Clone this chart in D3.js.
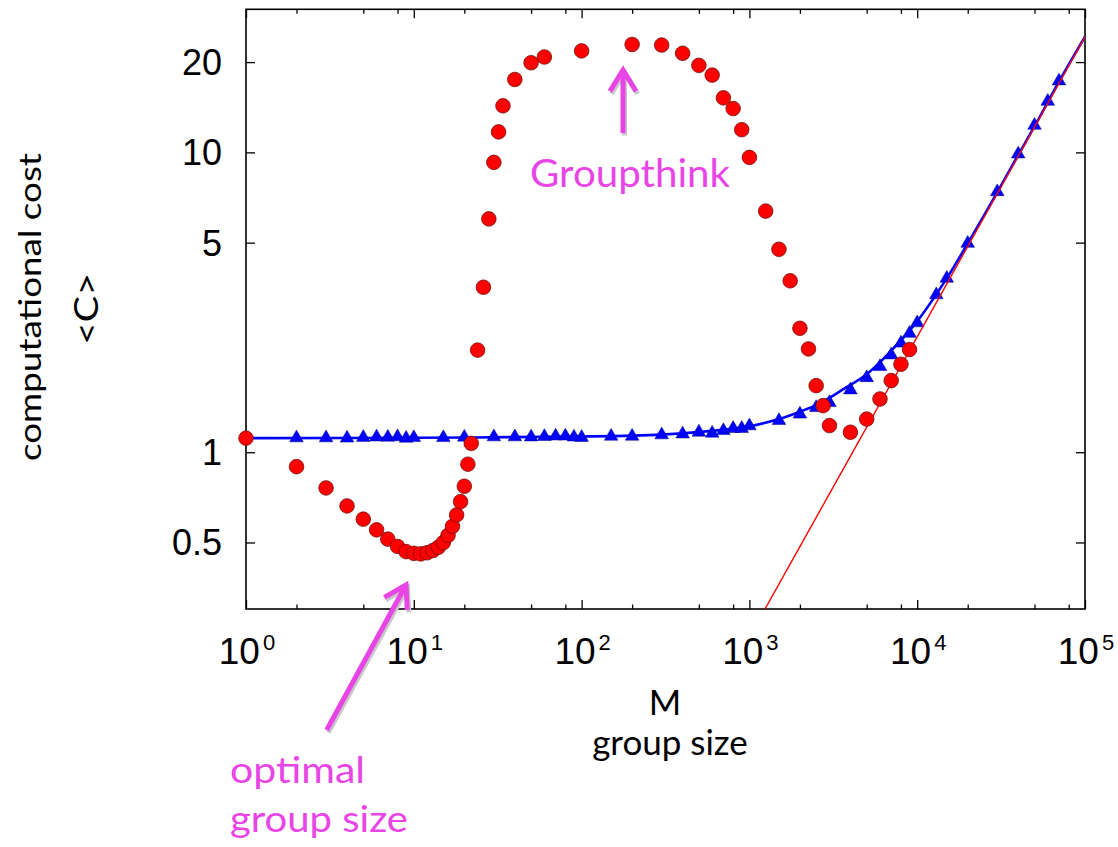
<!DOCTYPE html>
<html><head><meta charset="utf-8">
<script src="https://cdn.jsdelivr.net/npm/d3@7"></script>
<style>body{margin:0;background:#fff}svg{display:block}</style>
</head><body><svg id="c" width="1118" height="847"></svg>
<script>
// ---- data ----
const redM = [1,2,3,4,5,6,7,8,9,10,11,12,13,14,15,16,17,18,19,20,21,22,24,26,28,30,32,34,40,50,60,100,200,300,400,500,600,700,800,900,1000,1250,1500,1750,2000,2250,2500,2750,3000,4000,5000,6000,7000,8000,9000];
const redC = [1.114,0.895,0.76,0.662,0.598,0.551,0.513,0.485,0.466,0.46,0.458,0.462,0.47,0.482,0.5,0.528,0.566,0.618,0.684,0.77,0.912,1.07,2.19,3.55,6.0,9.26,11.7,14.3,17.5,19.9,20.8,21.8,22.9,22.8,21.4,19.5,18.1,15.2,14.0,11.9,9.62,6.37,4.75,3.73,2.59,2.21,1.667,1.43,1.227,1.166,1.29,1.505,1.733,1.965,2.2];
const blueM = [2,3,4,5,6,7,8,9,10,15,20,30,40,50,60,70,80,90,100,150,200,300,400,500,600,700,800,900,1000,1500,2000,2500,3000,4000,5000,6000,7000,8000,9000,10000,13000,15000,20000,30000,40000,50000,60000,70000];
const blueC = [1.116,1.116,1.114,1.12,1.124,1.122,1.126,1.113,1.118,1.118,1.122,1.125,1.125,1.124,1.128,1.132,1.132,1.123,1.12,1.13,1.13,1.142,1.15,1.166,1.157,1.18,1.2,1.2,1.224,1.274,1.339,1.408,1.463,1.613,1.772,1.929,2.11,2.31,2.49,2.7,3.35,3.8,4.97,7.39,9.87,12.3,14.8,17.3];
const fitM = [1,10,100,300,600,1000,1500,2000,2630,3570,5000,6890,9930,15000,20000,30000,40000,50000,70000,100000];
const fitC = [1.114,1.118,1.128,1.145,1.178,1.22,1.29,1.365,1.456,1.613,1.82,2.16,2.72,3.8,4.97,7.35,9.8,12.2,17.2,24.3];
const lineM = [1239,100000];
const lineC = [0.3,24.3];
const xMajorTicks = [1,10,100,1000,10000,100000];
const xTickExponents = ["0","1","2","3","4","5"];
const xMinorTicks = [2,5,8,20,50,80,200,500,800,2000,5000,8000,20000,50000,80000];
const yTicks = [0.5,1,5,10,20];
const yTickLabels = ["0.5","1","5","10","20"];

// ---- layout ----
const L = 246, R = 1085, T = 9.3, B = 609;
const svg = d3.select("#c");
const x = d3.scaleLog().domain([1,1e5]).range([L,R]);
const y = d3.scaleLog().domain([0.3,30]).range([B,T]);
const magenta = "#e945e6";
const tickFont = "'Liberation Sans', Arial, sans-serif";
const labFont = "Lato, 'Open Sans', sans-serif";

svg.append("defs").append("clipPath").attr("id","clip")
  .append("rect").attr("x",L).attr("y",T).attr("width",R-L).attr("height",B-T);

// axes (ticks inward)
function styleAxis(g){ g.select(".domain").remove(); g.selectAll("line").attr("stroke","#000").attr("stroke-width",1.3); }
svg.append("g").attr("transform",`translate(0,${B})`)
  .call(d3.axisBottom(x).tickValues(xMajorTicks).tickSize(-9).tickFormat(()=>"")).call(styleAxis);
svg.append("g").attr("transform",`translate(0,${B})`)
  .call(d3.axisBottom(x).tickValues(xMinorTicks).tickSize(-4.5).tickFormat(()=>"")).call(styleAxis);
svg.append("g").attr("transform",`translate(0,${T})`)
  .call(d3.axisTop(x).tickValues(xMajorTicks).tickSize(-9).tickFormat(()=>"")).call(styleAxis);
svg.append("g").attr("transform",`translate(0,${T})`)
  .call(d3.axisTop(x).tickValues(xMinorTicks).tickSize(-4.5).tickFormat(()=>"")).call(styleAxis);
svg.append("g").attr("transform",`translate(${L},0)`)
  .call(d3.axisLeft(y).tickValues(yTicks).tickSize(-9).tickFormat(()=>"")).call(styleAxis);
svg.append("g").attr("transform",`translate(${R},0)`)
  .call(d3.axisRight(y).tickValues(yTicks).tickSize(-9).tickFormat(()=>"")).call(styleAxis);

// x tick labels 10^n
xMajorTicks.forEach((v,i)=>{
  const t = svg.append("text").attr("x",x(v)+1).attr("y",664).attr("text-anchor","middle")
    .attr("font-family",tickFont).attr("font-size",37).attr("fill","#000");
  t.append("tspan").text("10");
  t.append("tspan").attr("dy",-14).attr("dx",3).attr("font-size",22).text(xTickExponents[i]);
});
// y tick labels
yTicks.forEach((v,i)=>{
  svg.append("text").attr("x",222).attr("y",y(v)+13).attr("text-anchor","end")
    .attr("font-family",tickFont).attr("font-size",36).attr("fill","#000").text(yTickLabels[i]);
});

// frame
svg.append("rect").attr("x",L).attr("y",T).attr("width",R-L).attr("height",B-T)
  .attr("fill","none").attr("stroke","#000").attr("stroke-width",1.6);

const plot = svg.append("g").attr("clip-path","url(#clip)");
const fitData = fitM.map((m,i)=>[m,fitC[i]]);
plot.append("path").datum(fitData)
  .attr("d", d3.line().x(d=>x(d[0])).y(d=>y(d[1])).curve(d3.curveCatmullRom.alpha(0.5)))
  .attr("fill","none").attr("stroke","#0000ff").attr("stroke-width",2.6);

// blue triangles
const blueData = blueM.map((m,i)=>[m,blueC[i]]);
plot.selectAll(".tri").data(blueData).join("path").attr("class","tri")
  .attr("d", d3.symbol(d3.symbolTriangle, 80))
  .attr("transform", d=>`translate(${x(d[0])},${y(d[1])})`)
  .attr("fill","#0000ff").attr("stroke","#000080").attr("stroke-width",0.5);

// red straight line
const lineData = lineM.map((m,i)=>[m,lineC[i]]);
plot.append("path").datum(lineData)
  .attr("d", d3.line().x(d=>x(d[0])).y(d=>y(d[1])))
  .attr("fill","none").attr("stroke","#ff0000").attr("stroke-width",1.4);

// red circles
const redData = redM.map((m,i)=>[m,redC[i]]);
svg.append("g").selectAll("circle").data(redData).join("circle")
  .attr("cx",d=>x(d[0])).attr("cy",d=>y(d[1])).attr("r",7.3)
  .attr("fill","#ff0000").attr("stroke","#701010").attr("stroke-width",0.8);

// axis titles
svg.append("text").attr("transform","translate(41,307) rotate(-90)").attr("text-anchor","middle")
  .attr("font-family",labFont).attr("font-size",31).attr("fill","#000")
  .attr("textLength",308).attr("lengthAdjust","spacingAndGlyphs").text("computational cost");
svg.append("text").attr("transform","translate(98,309) rotate(-90)").attr("text-anchor","middle")
  .attr("font-family",labFont).attr("font-size",32).attr("fill","#000")
  .attr("textLength",72).attr("lengthAdjust","spacingAndGlyphs").text("<C>");
svg.append("text").attr("x",665).attr("y",715).attr("text-anchor","middle")
  .attr("font-family",labFont).attr("font-size",35).attr("fill","#000").text("M");
svg.append("text").attr("x",670).attr("y",755).attr("text-anchor","middle")
  .attr("font-family",labFont).attr("font-size",35).attr("fill","#000").text("group size");

// annotations
function arrow(x1,y1,x2,y2,head){
  const a = Math.atan2(y2-y1,x2-x1);
  const p = (ang)=>[x2-head*Math.cos(a-ang), y2-head*Math.sin(a-ang)];
  const w1 = p(0.55), w2 = p(-0.55);
  const d = `M${x1},${y1}L${x2},${y2}M${w1[0]},${w1[1]}L${x2},${y2}L${w2[0]},${w2[1]}`;
  svg.append("path").attr("d",d).attr("transform","translate(1.5,2.5)")
    .attr("fill","none").attr("stroke","#c8c8c8").attr("stroke-width",5).attr("stroke-linecap","butt").attr("stroke-linejoin","miter");
  svg.append("path").attr("d",d)
    .attr("fill","none").attr("stroke",magenta).attr("stroke-width",5).attr("stroke-linecap","butt").attr("stroke-linejoin","miter");
}
arrow(623,133,623,70,25);
arrow(326.7,730,406,585,25);

svg.append("text").attr("x",630).attr("y",186.7).attr("text-anchor","middle")
  .attr("font-family",labFont).attr("font-size",38).attr("fill",magenta)
  .attr("textLength",200).attr("lengthAdjust","spacingAndGlyphs").text("Groupthink");
svg.append("text").attr("x",230).attr("y",783).attr("font-family",labFont).attr("font-size",37)
  .attr("fill",magenta).attr("textLength",135).attr("lengthAdjust","spacingAndGlyphs").text("optimal");
svg.append("text").attr("x",230).attr("y",831.7).attr("font-family",labFont).attr("font-size",37)
  .attr("fill",magenta).attr("textLength",178).attr("lengthAdjust","spacingAndGlyphs").text("group size");
</script></body></html>
